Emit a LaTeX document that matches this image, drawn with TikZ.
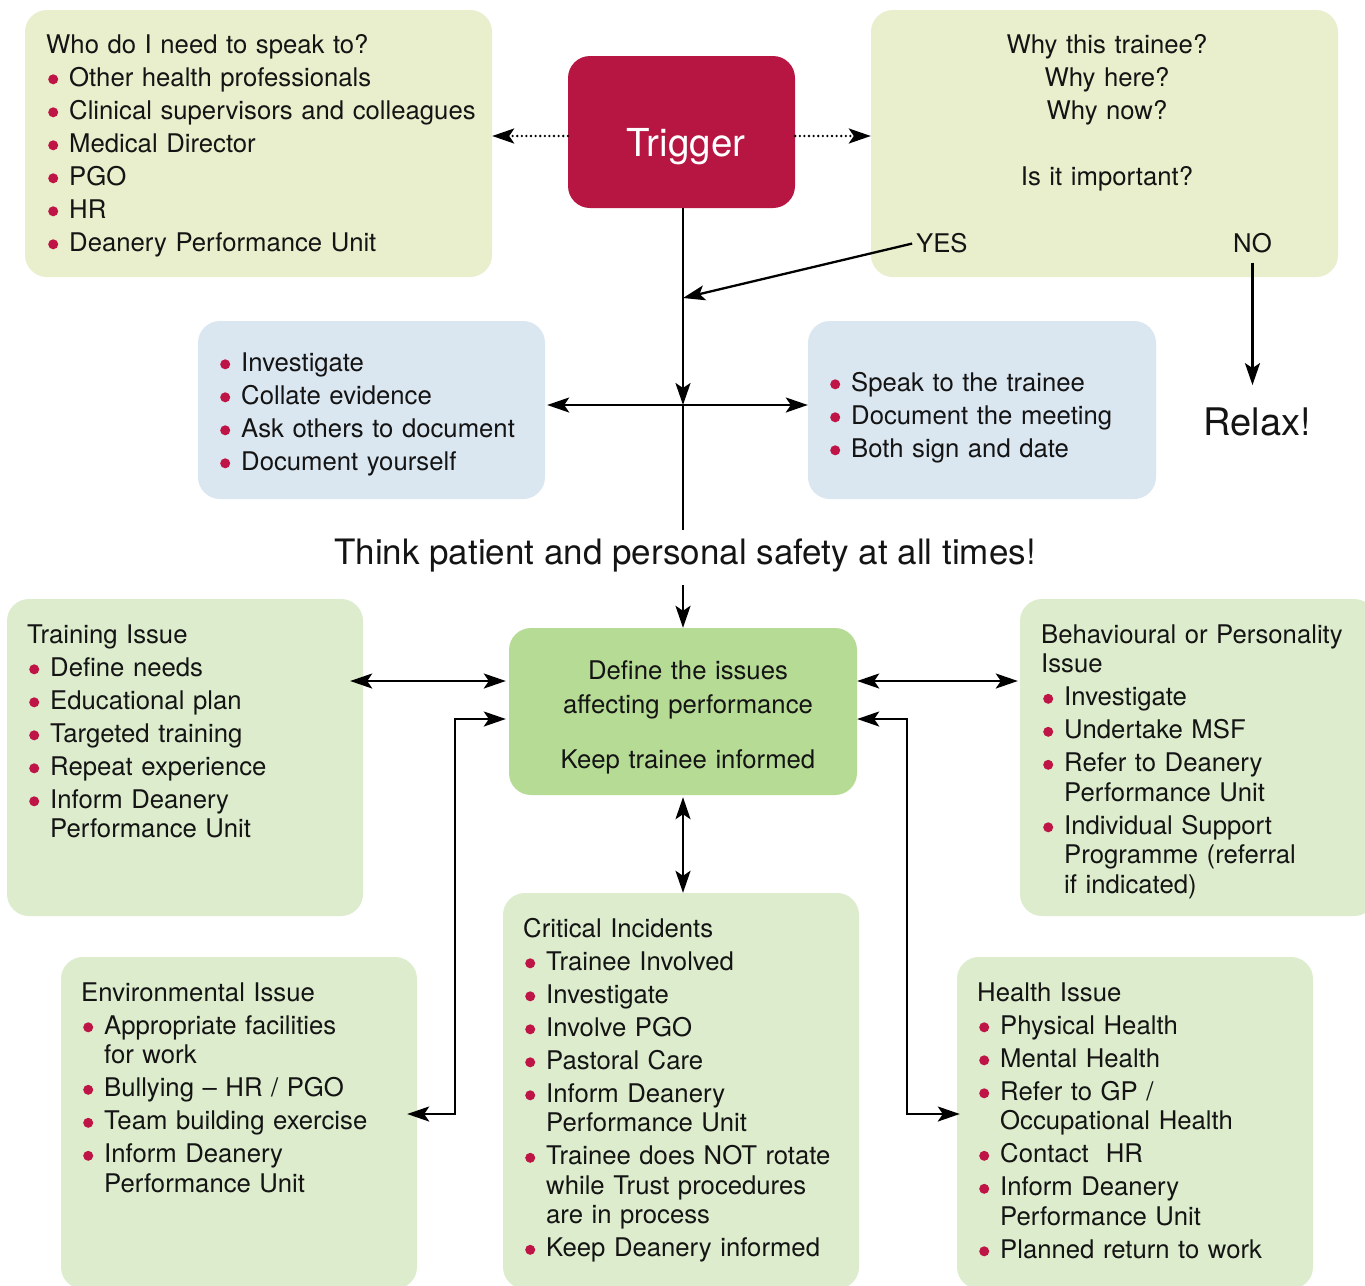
\documentclass[tikz,border=0pt]{standalone}
\usepackage{fontspec}
\setmainfont{TeX Gyre Heros}
\usetikzlibrary{arrows.meta,calc}
\definecolor{topc}{HTML}{E9EFCC}
\definecolor{bluec}{HTML}{DAE6F0}
\definecolor{greenc}{HTML}{DCECCC}
\definecolor{defc}{HTML}{B6DB95}
\definecolor{trigc}{HTML}{B71642}
\definecolor{bulc}{HTML}{BE1446}
\definecolor{txtc}{HTML}{141414}
\newcommand{\bitem}[1]{\makebox[23pt][l]{\hspace*{2pt}\tikz[baseline=0pt]\fill[bulc] (5pt,6.7pt) circle[radius=5pt];}#1}
\newcommand{\cont}[1]{\hspace*{23pt}#1}
\tikzset{
  box/.style={draw=none, rounded corners=22pt, minimum width=#1, inner sep=0pt},
  txt/.style={anchor=base west, inner sep=0pt, align=left, text width=480pt, text=txtc,
    font=\fontsize{25.7}{29.5}\selectfont},
  tip/.tip={Stealth[length=22pt,width=15pt,inset=5pt]},
  arr/.style={line width=2.3pt, -tip},
  arrb/.style={line width=2.3pt, tip-tip},
  dotarr/.style={line width=2.6pt, dash pattern=on 0pt off 4.6pt, line cap=round, -{Stealth[length=22pt,width=15pt,inset=5pt,line cap=butt]}},
}
\begin{document}
\begin{tikzpicture}[x=1pt,y=-1pt]
\clip (0,0) rectangle (1365,1285);
\fill[white] (0,0) rectangle (1365,1285);
% boxes
\node[box=467pt, minimum height=267pt, fill=topc] (who) at (258.5,143.5) {};
\node[box=227pt, minimum height=152pt, fill=trigc] (trig) at (681.5,132) {};
\node[box=467pt, minimum height=267pt, fill=topc] (why) at (1104.5,143.5) {};
\node[box=347pt, minimum height=178pt, fill=bluec] (blueL) at (371.5,410) {};
\node[box=348pt, minimum height=178pt, fill=bluec] (blueR) at (982,410) {};
\node[box=348pt, minimum height=167pt, fill=defc] (define) at (683,711.5) {};
\node[box=356pt, minimum height=317pt, fill=greenc] (train) at (185,757.5) {};
\node[box=356pt, minimum height=317pt, fill=greenc] (behav) at (1198,757.5) {};
\node[box=356pt, minimum height=396pt, fill=greenc] (crit) at (681,1091) {};
\node[box=356pt, minimum height=332pt, fill=greenc] (env) at (239,1123) {};
\node[box=356pt, minimum height=332pt, fill=greenc] (health) at (1135,1123) {};
% texts
\node[txt] (whot) at (46,53) {Who do I need to speak to?\\[3.5pt]
\bitem{Other health professionals}\\[3.5pt]
\bitem{Clinical supervisors and colleagues}\\[3.5pt]
\bitem{Medical Director}\\[3.5pt]
\bitem{PGO}\\[3.5pt]
\bitem{HR}\\[3.5pt]
\bitem{Deanery Performance Unit}};
\node[anchor=base, inner sep=0pt, text=white, font=\fontsize{38.5}{40}\selectfont] (trigt) at (686,156) {Trigger};
\node[anchor=base, inner sep=0pt, align=center, text width=400pt, text=txtc, font=\fontsize{25.7}{33}\selectfont] (whyt) at (1107,53) {Why this trainee?\\Why here?\\Why now?\\[33pt]Is it important?};
\node[anchor=base west, inner sep=0pt, text=txtc, font=\fontsize{25.7}{30}\selectfont] (yes) at (916,252) {YES};
\node[anchor=base west, inner sep=0pt, text=txtc, font=\fontsize{25.7}{30}\selectfont] (no) at (1233,252) {NO};
\node[anchor=base, inner sep=0pt, text=txtc, font=\fontsize{38}{40}\selectfont] (relax) at (1257,435) {Relax!};
\node[txt] (blueLt) at (218,371) {\bitem{Investigate}\\[3.5pt]
\bitem{Collate evidence}\\[3.5pt]
\bitem{Ask others to document}\\[3.5pt]
\bitem{Document yourself}};
\node[txt] (blueRt) at (828,391) {\bitem{Speak to the trainee}\\[3.5pt]
\bitem{Document the meeting}\\[3.5pt]
\bitem{Both sign and date}};
\node[anchor=base, inner sep=0pt, text=txtc, font=\fontsize{35}{40}\selectfont] (think) at (685,564) {Think patient and personal safety at all times!};
\node[anchor=base, inner sep=0pt, align=center, text width=340pt, text=txtc, font=\fontsize{25.7}{34}\selectfont] (deft) at (688,679) {Define the issues\\affecting performance\\[21pt]Keep trainee informed};
\node[txt] (traint) at (27,643) {Training Issue\\[3.5pt]
\bitem{Define needs}\\[3.5pt]
\bitem{Educational plan}\\[3.5pt]
\bitem{Targeted training}\\[3.5pt]
\bitem{Repeat experience}\\[3.5pt]
\bitem{Inform Deanery}\\
\cont{Performance Unit}};
\node[txt] (behavt) at (1041,643) {Behavioural or Personality\\
Issue\\[3.5pt]
\bitem{Investigate}\\[3.5pt]
\bitem{Undertake MSF}\\[3.5pt]
\bitem{Refer to Deanery}\\
\cont{Performance Unit}\\[3.5pt]
\bitem{Individual Support}\\
\cont{Programme (referral}\\
\cont{if indicated)}};
\node[txt] (critt) at (523,937) {Critical Incidents\\[3.5pt]
\bitem{Trainee Involved}\\[3.5pt]
\bitem{Investigate}\\[3.5pt]
\bitem{Involve PGO}\\[3.5pt]
\bitem{Pastoral Care}\\[3.5pt]
\bitem{Inform Deanery}\\
\cont{Performance Unit}\\[3.5pt]
\bitem{Trainee does NOT rotate}\\
\cont{while Trust procedures}\\
\cont{are in process}\\[3.5pt]
\bitem{Keep Deanery informed}};
\node[txt] (envt) at (81,1001) {Environmental Issue\\[3.5pt]
\bitem{Appropriate facilities}\\
\cont{for work}\\[3.5pt]
\bitem{Bullying -- HR / PGO}\\[3.5pt]
\bitem{Team building exercise}\\[3.5pt]
\bitem{Inform Deanery}\\
\cont{Performance Unit}};
\node[txt] (healtht) at (977,1001) {Health Issue\\[3.5pt]
\bitem{Physical Health}\\[3.5pt]
\bitem{Mental Health}\\[3.5pt]
\bitem{Refer to GP /}\\
\cont{Occupational Health}\\[3.5pt]
\bitem{Contact\ \ HR}\\[3.5pt]
\bitem{Inform Deanery}\\
\cont{Performance Unit}\\[3.5pt]
\bitem{Planned return to work}};
% coordinates
\coordinate (cross) at (683,405);
\coordinate (yesend) at (683,298);
\coordinate (thinkline) at (683,530);
% connectors
\draw[dotarr] ([yshift=-4pt]trig.west) -- ([yshift=-4pt]trig.west -| who.east);
\draw[dotarr] ([yshift=-4pt]trig.east) -- ([yshift=-4pt]trig.east -| why.west);
\draw[arr] (cross |- trig.south) -- (cross);
\draw[line width=2.3pt] (cross) -- (thinkline);
\draw[arr, shorten <=4pt] (yes.west) -- (yesend);
\draw[arr, shorten <=10pt, shorten >=22pt] (no.south) -- (no.south |- relax.north);
\draw[arrb, shorten <=2pt] (blueL.east |- cross) -- (blueR.west |- cross);
\draw[arr, shorten <=13pt] (define.north |- think.south) -- (define.north);
\draw[arrb, shorten <=3pt, shorten >=-13pt] ([yshift=30.5pt]define.west) -- ([yshift=30.5pt]define.west -| train.east);
\draw[arrb, shorten >=2pt] ([yshift=30.5pt]define.east) -- ([yshift=30.5pt]define.east -| behav.west);
\draw[arrb, shorten <=2pt] (define.south) -- (define.south |- crit.north);
\draw[arrb, shorten <=3pt, shorten >=-10pt] ([yshift=-7.5pt]define.west) -- ++(-54,0) |- ([yshift=9pt]env.east);
\draw[arrb, shorten >=-3pt] ([yshift=-7.5pt]define.east) -- ++(50,0) |- ([yshift=9pt]health.west);
\end{tikzpicture}
\end{document}
